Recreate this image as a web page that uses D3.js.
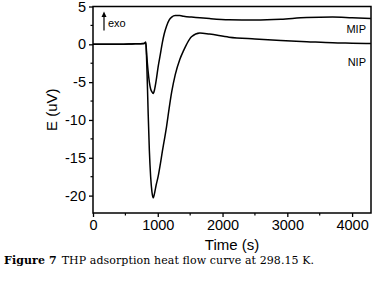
<!DOCTYPE html>
<html><head><meta charset="utf-8">
<script src="https://cdn.jsdelivr.net/npm/d3@7"></script>
<style>body{margin:0;background:#fff}svg{display:block}</style>
</head><body>
<svg id="c" width="374" height="284"></svg>
<script>
const time = [0, 300, 600, 790, 815, 830, 850, 870, 890, 910, 930, 950, 975, 1005, 1040, 1070, 1100, 1135, 1175, 1215, 1270, 1340, 1400, 1445, 1520, 1650, 1800, 2100, 2500, 2900, 3300, 3700, 4000, 4290];
const nip = [0, 0, 0.05, 0.1, 0.2, -2.5, -8.6, -14, -17.5, -19.5, -20.3, -19.7, -18.6, -17.5, -15.8, -14.2, -12.7, -10.9, -8.5, -6.3, -4.0, -2.0, -0.8, 0, 1.0, 1.5, 1.35, 0.95, 0.7, 0.5, 0.35, 0.2, 0.15, 0.1];
const mip = [0, 0, 0.05, 0.1, 0.3, -1.5, -3.5, -5.0, -5.9, -6.3, -6.5, -6.0, -4.8, -3.0, -1.3, 0.2, 1.4, 2.4, 3.2, 3.6, 3.8, 3.8, 3.7, 3.65, 3.6, 3.5, 3.4, 3.25, 3.2, 3.3, 3.55, 3.6, 3.5, 3.4];
const xTicks = [0, 1000, 2000, 3000, 4000];
const yTicks = [5, 0, -5, -10, -15, -20];
const seriesNames = ["MIP", "NIP"];
const xLabel = "Time (s)", yLabel = "E (uV)";
const caption = ["Figure 7", "THP adsorption heat flow curve at 298.15 K."];

const svg = d3.select("#c");
const L = 93, R = 371, T = 6.5, B = 213;
const x = d3.scaleLinear().domain([0, 4292]).range([L, R]);
const y = d3.scaleLinear().domain([-22.3, 5]).range([B, T]);
const font = "Liberation Sans, Arial, sans-serif";

// minor ticks
const g = svg.append("g");
d3.range(500, 4292, 1000).forEach(v => {
  g.append("line").attr("x1", x(v)).attr("x2", x(v)).attr("y1", B).attr("y2", B + 2.5).attr("stroke", "#000").attr("stroke-width", 1.2);
});
d3.range(-22.5, 5, 5).filter(v => v > -22.3).forEach(v => {
  g.append("line").attr("x1", L).attr("x2", L - 2.5).attr("y1", y(v)).attr("y2", y(v)).attr("stroke", "#000").attr("stroke-width", 1.2);
});

const xAxis = svg.append("g").attr("transform", `translate(0,${B})`)
  .call(d3.axisBottom(x).tickValues(xTicks).tickSize(4).tickPadding(3).tickSizeOuter(0).tickFormat(d3.format("d")));
const yAxis = svg.append("g").attr("transform", `translate(${L},0)`)
  .call(d3.axisLeft(y).tickValues(yTicks).tickSize(4).tickPadding(3).tickSizeOuter(0).tickFormat(d3.format("d")));
[xAxis, yAxis].forEach(a => {
  a.select(".domain").remove();
  a.selectAll("line").attr("stroke-width", 1.3);
  a.selectAll("text").attr("font-family", font).attr("font-size", 14.5).attr("fill", "#000");
});
yAxis.selectAll("text").text(d => d < 0 ? "-" + Math.abs(d) : d);

svg.append("rect").attr("x", L).attr("y", T).attr("width", R - L).attr("height", B - T)
  .attr("fill", "none").attr("stroke", "#000").attr("stroke-width", 1.5);

const line = d3.line().x(d => x(d[0])).y(d => y(d[1])).curve(d3.curveMonotoneX);
[nip, mip].forEach(s => {
  svg.append("path").datum(time.map((t, i) => [t, s[i]])).attr("d", line)
    .attr("fill", "none").attr("stroke", "#000").attr("stroke-width", 1.5);
});

svg.append("text").attr("x", 366).attr("y", 33).attr("text-anchor", "end").attr("font-family", font).attr("font-size", 11).text(seriesNames[0]);
svg.append("text").attr("x", 366).attr("y", 66).attr("text-anchor", "end").attr("font-family", font).attr("font-size", 11).text(seriesNames[1]);

// exo arrow
svg.append("line").attr("x1", 104).attr("x2", 104).attr("y1", 30.5).attr("y2", 15).attr("stroke", "#000").attr("stroke-width", 1.2);
svg.append("path").attr("d", "M101.5,17 L104,11.5 L106.5,17 Z").attr("fill", "#000");
svg.append("text").attr("x", 108).attr("y", 27).attr("font-family", font).attr("font-size", 11).text("exo");

svg.append("text").attr("x", (L + R) / 2).attr("y", 250).attr("text-anchor", "middle").attr("font-family", font).attr("font-size", 15).text(xLabel);
svg.append("text").attr("transform", `translate(57,${(T + B) / 2}) rotate(-90)`).attr("text-anchor", "middle").attr("font-family", font).attr("font-size", 15).text(yLabel);

const cap = svg.append("text").attr("x", 4).attr("y", 264).attr("font-family", "DejaVu Serif, serif").attr("font-size", 11).attr("textLength", 310).attr("lengthAdjust", "spacing");
cap.append("tspan").attr("font-weight", "bold").text(caption[0]);
cap.append("tspan").attr("dx", 5).text(caption[1]);
</script>
</body></html>
